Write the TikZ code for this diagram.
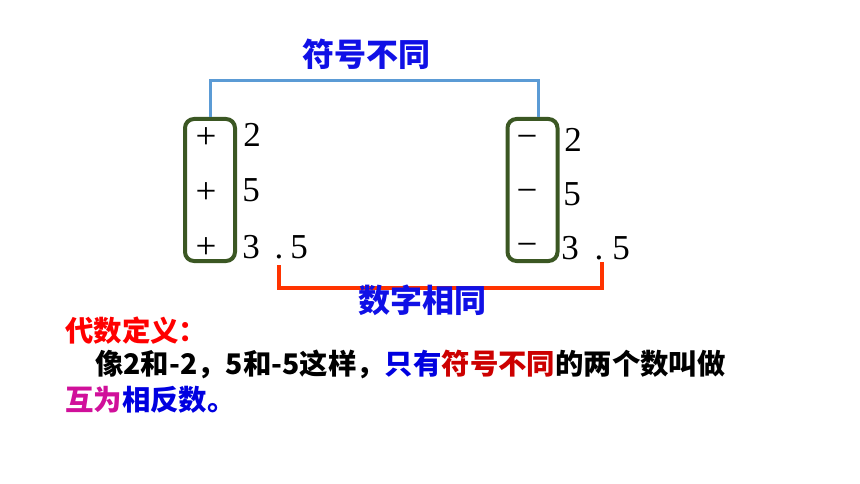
\documentclass[tikz,border=0pt]{standalone}
\usepackage{fontspec}
\setmainfont{Liberation Serif}
\newfontfamily\cjk{Noto Sans CJK SC}
\definecolor{boxgreen}{HTML}{3B5723}
\definecolor{brblue}{HTML}{5B9BD5}
\definecolor{brred}{HTML}{FF3300}
\definecolor{ttblue}{HTML}{1010E6}
\definecolor{defred}{HTML}{FF0000}
\definecolor{dkred}{HTML}{CC0000}
\definecolor{magent}{HTML}{D0109A}
\definecolor{txblue}{HTML}{0000E0}
\begin{document}
\begin{tikzpicture}[x=1pt,y=-1pt,
  gbox/.style={draw=boxgreen,line width=4pt,rounded corners=9pt,minimum width=50pt,minimum height=142pt,inner sep=0pt},
  num/.style={font=\fontsize{35}{35}\selectfont,inner sep=0pt,anchor=base},
  sgn/.style={font=\fontsize{37}{37}\selectfont,inner sep=0pt,anchor=center},
  title/.style={font=\cjk\bfseries\fontsize{32}{32}\selectfont,text=ttblue,inner sep=0pt,anchor=base},
  body/.style={font=\cjk\bfseries\fontsize{28.4}{28.4}\selectfont,inner sep=0pt,anchor=base west},
  bluebr/.style={draw=brblue,line width=3pt},
  redbr/.style={draw=brred,line width=3.5pt}]
\useasboundingbox (0,0) rectangle (860,484);
% boxes
\node[gbox] (lbox) at (210,190) {};
\node[gbox] (rbox) at (532.5,190) {};
% signs
\node[sgn] (p1) at (206,138) {+};
\node[sgn] (p2) at (206,193) {+};
\node[sgn] (p3) at (206,248) {+};
\node[sgn] (m1) at (527,142) {−};
\node[sgn] (m2) at (527,196) {−};
\node[sgn] (m3) at (527,250) {−};
% numbers left
\node[num] (l2) at (252,147) {2};
\node[num] (l5) at (251,202) {5};
\node[num] (l3) at (251,258) {3};
\node[num] (ld) at (279,258) {.};
\node[num] (l35) at (299,258) {5};
% numbers right
\node[num] (r2) at (573,152) {2};
\node[num] (r5) at (572,205) {5};
\node[num] (r3) at (570,259) {3};
\node[num] (rd) at (599,259) {.};
\node[num] (r35) at (621,259) {5};
% brackets
\coordinate (bl) at (279,265);
\coordinate (br) at (602,262);
\draw[bluebr] (lbox.north) |- ([xshift=5.5pt,yshift=36pt]rbox.north) -- ([xshift=5.5pt]rbox.north);
\draw[redbr] (bl) |- ([yshift=-26pt]br) -- (br);
% titles
\node[title] (t1) at (366,67) {符号不同};
\node[title] (t2) at (422,312) {数字相同};
% definition text
\node[body,text=defred] (d1) at (65,341) {代数定义：};
\node[body] (d2) at (95,374) {像2和-2，5和-5这样，\textcolor{txblue}{只有}\textcolor{dkred}{符号不同}的两个数叫做};
\node[body] (d3) at (65,410) {\textcolor{magent}{互为}\textcolor{txblue}{相反数。}};
\end{tikzpicture}
\end{document}
